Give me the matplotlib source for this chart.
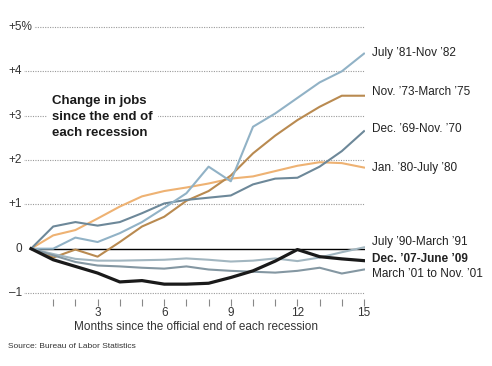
import matplotlib
matplotlib.use("Agg")
import matplotlib.pyplot as plt
import numpy as np

plt.rcParams['font.family'] = ['Liberation Sans', 'DejaVu Sans']

months = np.arange(0, 16)

# percent change in jobs, months 0..15 after each recession ended
jul81 = [0, 0.0, 0.25, 0.15, 0.35, 0.6, 0.92, 1.25, 1.85, 1.52, 2.75, 3.05, 3.4, 3.75, 4.0, 4.4]
nov73 = [0, -0.2, -0.02, -0.18, 0.15, 0.5, 0.72, 1.08, 1.3, 1.65, 2.15, 2.55, 2.9, 3.2, 3.45, 3.45]
dec69 = [0, 0.5, 0.6, 0.52, 0.6, 0.8, 1.02, 1.1, 1.15, 1.2, 1.45, 1.58, 1.6, 1.85, 2.2, 2.65]
jan80 = [0, 0.3, 0.42, 0.68, 0.95, 1.18, 1.3, 1.38, 1.47, 1.58, 1.63, 1.75, 1.87, 1.95, 1.93, 1.83]
jul90 = [0, -0.12, -0.23, -0.27, -0.27, -0.26, -0.25, -0.22, -0.25, -0.29, -0.27, -0.22, -0.28, -0.2, -0.08, 0.03]
mar01 = [0, -0.15, -0.3, -0.38, -0.4, -0.43, -0.45, -0.4, -0.47, -0.5, -0.52, -0.54, -0.5, -0.43, -0.56, -0.47]
dec07 = [0, -0.25, -0.4, -0.55, -0.75, -0.72, -0.8, -0.8, -0.78, -0.65, -0.5, -0.28, -0.02, -0.18, -0.23, -0.27]

labels = ["July ’81-Nov ’82", "Nov. ’73-March ’75", "Dec. ’69-Nov. ’70", "Jan. ’80-July ’80",
          "July ’90-March ’91", "Dec. ’07-June ’09", "March ’01 to Nov. ’01"]
label_y = [4.42, 3.54, 2.71, 1.83, 0.16, -0.23, -0.56]

ytick_vals = [5, 4, 3, 2, 1, 0, -1]
ytick_text = ["+5%", "+4", "+3", "+2", "+1", "0", "–1"]

fig = plt.figure(figsize=(4.92, 3.66), dpi=100)
ax = fig.add_axes([8 / 492, 60 / 366, 357 / 492, 286 / 366])
ax.set_xlim(-1.036, 15.045)
ax.set_ylim(-1.293, 5.158)
for s in ax.spines.values():
    s.set_visible(False)

# dotted gridlines
for v in ytick_vals:
    if v != 0:
        ax.axhline(v, color='#9a9a9a', lw=0.8, ls=(0, (1, 1.2)), zorder=1)
ax.plot([0, 15], [0, 0], color='black', lw=1.0, zorder=2)

ax.plot(months, jan80, color='#eeb273', lw=1.5, zorder=3)
ax.plot(months, nov73, color='#b98a50', lw=1.5, zorder=3)
ax.plot(months, dec69, color='#6d8899', lw=1.5, zorder=3)
ax.plot(months, jul81, color='#91b2c6', lw=1.5, zorder=4)
ax.plot(months, jul90, color='#a2b6c0', lw=1.5, zorder=3)
ax.plot(months, mar01, color='#8497a2', lw=1.5, zorder=3)
ax.plot(months, dec07, color='#1a1a1a', lw=2.3, zorder=5)

# y labels
for v, t in zip(ytick_vals, ytick_text):
    if t.endswith('%'):
        ax.text(-1.036, v, t, ha='left', va='center', fontsize=8.5, color='#333333',
                bbox=dict(boxstyle='square,pad=0.15', fc='white', ec='none'), zorder=6)
    else:
        ax.text(-0.41, v, t, ha='right', va='center', fontsize=8.5, color='#333333',
                bbox=dict(boxstyle='square,pad=0.15', fc='white', ec='none'), zorder=6)

# series labels
for t, y in zip(labels, label_y):
    ax.text(15.36, y, t, ha='left', va='center', fontsize=8.5, color='#222222',
            fontweight='bold' if t.startswith('Dec. ’07') else 'normal', clip_on=False)

ax.text(0.95, 2.98, "Change in jobs\nsince the end of\neach recession", ha='left', va='center',
        fontsize=9.5, fontweight='bold', color='#1a1a1a', linespacing=1.45,
        bbox=dict(boxstyle='square,pad=0.4', fc='white', ec='none'), zorder=6)

ax.set_xticks(range(1, 16))
ax.set_xticklabels([str(m) if m % 3 == 0 else '' for m in range(1, 16)])
ax.tick_params(axis='x', direction='in', length=5, width=0.8, color='#888888',
               pad=1, labelsize=8.5, labelcolor='#333333')
ax.set_yticks([])

fig.text(196 / 492, 1 - 327 / 366, "Months since the official end of each recession",
         ha='center', va='center', fontsize=8.5, color='#333333')
fig.text(8 / 492, 1 - 346 / 366, "Source: Bureau of Labor Statistics",
         ha='left', va='center', fontsize=6, color='#333333')

fig.savefig("out.png", dpi=100)
